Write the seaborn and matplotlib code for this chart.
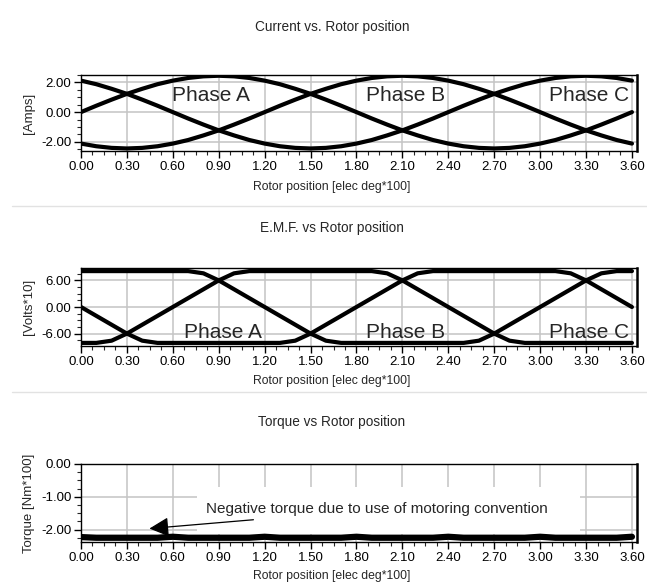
import numpy as np
import pandas as pd
import matplotlib.pyplot as plt
import seaborn as sns
from matplotlib.lines import Line2D
from matplotlib.patches import Rectangle
from matplotlib.ticker import MultipleLocator, FormatStrFormatter

# Rotor position [elec deg*100], one reading every 0.10
position = [round(0.1 * k, 1) for k in range(37)]

# Phase currents [Amps]
current_a = [0.00, 0.43, 0.84, 1.23, 1.57, 1.88, 2.12, 2.30, 2.41, 2.45, 2.41, 2.30, 2.12,
             1.88, 1.57, 1.23, 0.84, 0.43, 0.00, -0.43, -0.84, -1.23, -1.57, -1.88, -2.12,
             -2.30, -2.41, -2.45, -2.41, -2.30, -2.12, -1.88, -1.57, -1.23, -0.84, -0.43, 0.00]
current_b = [-2.12, -2.30, -2.41, -2.45, -2.41, -2.30, -2.12, -1.88, -1.57, -1.23, -0.84, -0.43,
             0.00, 0.43, 0.84, 1.23, 1.57, 1.88, 2.12, 2.30, 2.41, 2.45, 2.41, 2.30, 2.12,
             1.88, 1.57, 1.23, 0.84, 0.43, 0.00, -0.43, -0.84, -1.23, -1.57, -1.88, -2.12]
current_c = [2.12, 1.88, 1.57, 1.23, 0.84, 0.43, 0.00, -0.43, -0.84, -1.23, -1.57, -1.88,
             -2.12, -2.30, -2.41, -2.45, -2.41, -2.30, -2.12, -1.88, -1.57, -1.23, -0.84, -0.43,
             0.00, 0.43, 0.84, 1.23, 1.57, 1.88, 2.12, 2.30, 2.41, 2.45, 2.41, 2.30, 2.12]

# Phase back-EMF [Volts*10]
emf_a = [0.0, -2.0, -4.0, -6.0, -7.6, -8.1, -8.1, -8.1, -8.1, -8.1, -8.1, -8.1, -8.1,
         -8.1, -7.6, -6.0, -4.0, -2.0, 0.0, 2.0, 4.0, 6.0, 7.6, 8.1, 8.1,
         8.1, 8.1, 8.1, 8.1, 8.1, 8.1, 8.1, 7.6, 6.0, 4.0, 2.0, 0.0]
emf_b = [8.1, 8.1, 8.1, 8.1, 8.1, 8.1, 8.1, 8.1, 7.6, 6.0, 4.0, 2.0, 0.0,
         -2.0, -4.0, -6.0, -7.6, -8.1, -8.1, -8.1, -8.1, -8.1, -8.1, -8.1, -8.1,
         -8.1, -7.6, -6.0, -4.0, -2.0, 0.0, 2.0, 4.0, 6.0, 7.6, 8.1, 8.1]
emf_c = [-8.1, -8.1, -7.6, -6.0, -4.0, -2.0, 0.0, 2.0, 4.0, 6.0, 7.6, 8.1, 8.1,
         8.1, 8.1, 8.1, 8.1, 8.1, 8.1, 8.1, 7.6, 6.0, 4.0, 2.0, 0.0,
         -2.0, -4.0, -6.0, -7.6, -8.1, -8.1, -8.1, -8.1, -8.1, -8.1, -8.1, -8.1]

# Torque [Nm*100], bottom panel
torque = [-2.23, -2.25, -2.25, -2.25, -2.25, -2.25, -2.22, -2.25, -2.25, -2.25, -2.25, -2.25,
          -2.22, -2.25, -2.25, -2.25, -2.25, -2.25, -2.22, -2.25, -2.25, -2.25, -2.25, -2.25,
          -2.22, -2.25, -2.25, -2.25, -2.25, -2.25, -2.22, -2.25, -2.25, -2.25, -2.25, -2.25, -2.22]

phase_names = ["Phase A", "Phase B", "Phase C"]

cur_df = pd.DataFrame({
    "pos": position * 3,
    "val": current_a + current_b + current_c,
    "phase": np.repeat(phase_names, len(position)),
})
emf_df = pd.DataFrame({
    "pos": position * 3,
    "val": emf_a + emf_b + emf_c,
    "phase": np.repeat(phase_names, len(position)),
})
tq_df = pd.DataFrame({"pos": position, "val": torque})

sns.set_theme(style="ticks")
plt.rcParams['font.family'] = ['Liberation Sans', 'DejaVu Sans']

W, H = 647, 583
fig = plt.figure(figsize=(W / 100, H / 100), dpi=100)


def make_ax(top, bottom):
    return fig.add_axes([81 / W, 1 - bottom / H, (637 - 81) / W, (bottom - top) / H])


def style_ax(ax, ylim, ymajor, ylabel):
    ax.set_xlim(0, 3.633)
    ax.set_ylim(*ylim)
    ax.xaxis.set_major_locator(MultipleLocator(0.3))
    ax.xaxis.set_minor_locator(MultipleLocator(0.075))
    ax.yaxis.set_major_locator(MultipleLocator(ymajor))
    ax.yaxis.set_minor_locator(MultipleLocator(ymajor / 4))
    ax.xaxis.set_major_formatter(FormatStrFormatter('%.2f'))
    ax.yaxis.set_major_formatter(FormatStrFormatter('%.2f'))
    ax.tick_params(which='major', length=5, width=1, labelsize=9.5, pad=2, colors='black')
    ax.tick_params(which='minor', length=3, width=0.8)
    ax.grid(True, which='major', color='#c4c4c4', lw=1.1)
    ax.set_axisbelow(True)
    for s in ax.spines.values():
        s.set_color('black')
        s.set_linewidth(1.0)
    ax.spines['right'].set_linewidth(1.8)
    ax.set_xlabel("")
    ax.set_ylabel(ylabel, fontsize=9.5, labelpad=4)


black3 = {p: 'black' for p in phase_names}

# Current panel
ax1 = make_ax(75, 151)
sns.lineplot(data=cur_df, x="pos", y="val", hue="phase", palette=black3,
             lw=3, ax=ax1, legend=False)
style_ax(ax1, (-2.62, 2.5), 2.0, "[Amps]")
for name, x in zip(phase_names, [0.85, 2.12, 3.32]):
    ax1.text(x, 1.15, name, fontsize=15, ha='center', va='center')

# EMF panel
ax2 = make_ax(268, 346)
sns.lineplot(data=emf_df, x="pos", y="val", hue="phase", palette=black3,
             lw=3, ax=ax2, legend=False)
style_ax(ax2, (-8.8, 8.8), 6.0, "[Volts*10]")
for name, x in zip(phase_names, [0.925, 2.12, 3.32]):
    ax2.text(x, -5.75, name, fontsize=15, ha='center', va='center')

# Torque panel
ax3 = make_ax(464, 542)
sns.lineplot(data=tq_df, x="pos", y="val", color='black', lw=4.5, ax=ax3)
style_ax(ax3, (-2.38, 0.0), 1.0, "Torque [Nm*100]")
ax3.add_patch(Rectangle((0.76, -2.15), 2.5, 1.45, facecolor='white',
                        edgecolor='none', zorder=1))
ax3.annotate("Negative torque due to use of motoring convention",
             xy=(0.447, -1.97), xytext=(0.82, -1.38), fontsize=11,
             ha='left', va='center', zorder=3,
             arrowprops=dict(arrowstyle='-|>,head_length=0.6,head_width=0.3',
                             color='black', lw=0.9, mutation_scale=20,
                             shrinkA=2, shrinkB=0))

# Titles and x-labels, centred slightly left of the axes centre
cx = 332 / W
for y, t in [(27, "Current vs. Rotor position"), (228, "E.M.F. vs Rotor position"),
             (422, "Torque vs Rotor position")]:
    fig.text(cx, 1 - y / H, t, ha='center', va='center', fontsize=9.8)
for y in [187, 381, 576]:
    fig.text(cx, 1 - y / H, "Rotor position [elec deg*100]", ha='center',
             va='center', fontsize=8.8)

# Thin separators between the panels
for y in [205.5, 391.5]:
    fig.add_artist(Line2D([12 / W, 1], [1 - y / H] * 2, color='#e2e2e2', lw=1))

fig.savefig("out.png", dpi=100)
